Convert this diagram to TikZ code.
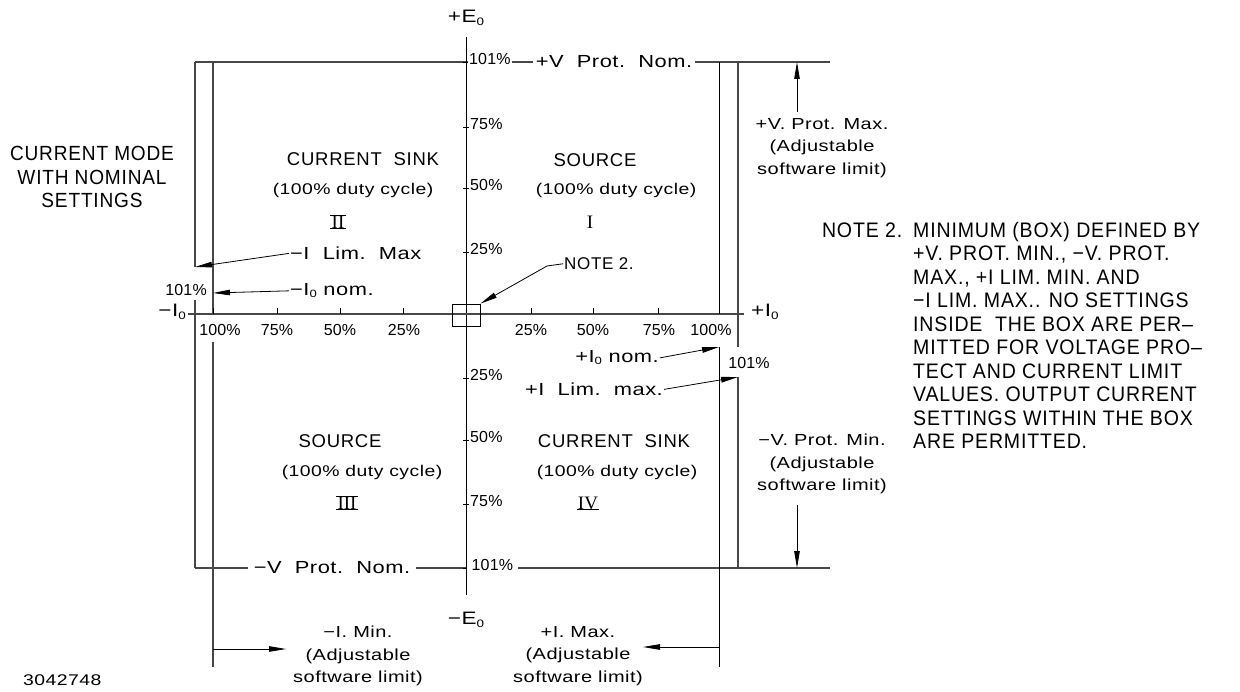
\documentclass[tikz,border=0pt]{standalone}
\usepackage{graphicx}
\usepackage{fontspec}
\setmainfont{Liberation Sans}
\newfontfamily\capsf{Liberation Sans}[LetterSpace=4]
\newfontfamily\notef{Liberation Sans}[FakeStretch=0.93,LetterSpace=4]
\newfontfamily\digf{Liberation Sans}[LetterSpace=1]
\newfontfamily\mixf{Liberation Sans}[FakeStretch=1.25,LetterSpace=3]
\newfontfamily\romf{Liberation Serif}
\usetikzlibrary{arrows.meta}
\newcommand\zsub{\raisebox{-0.25ex}{\scalebox{0.6}{0}}}
\tikzset{
  ln/.style={line width=0.9pt, draw=black},
  gln/.style={line width=1.1pt, draw=black!72},
  arr/.style={line width=0.8pt, draw=black, -{Triangle[length=17pt,width=5.5pt]}},
  big/.style={font=\mixf\fontsize{17.5}{20}\selectfont, inner sep=1pt},
  axl/.style={font=\mixf\fontsize{18}{20}\selectfont, inner sep=1pt},
  sm/.style={font=\mixf\fontsize{16}{22.5}\selectfont, align=center, inner sep=1pt},
  duty/.style={font=\mixf\fontsize{15.5}{18}\selectfont, inner sep=1pt},
  pct/.style={font=\digf\fontsize{16}{18}\selectfont, inner sep=1pt},
  capl/.style={font=\capsf\fontsize{18.5}{20}\selectfont, inner sep=1pt},
  model/.style={font=\notef\fontsize{20.5}{23.5}\selectfont, align=center, inner sep=0pt},
  notel/.style={font=\notef\fontsize{21}{23.5}\selectfont, inner sep=0pt},
  notes/.style={font=\capsf\fontsize{17}{20}\selectfont, inner sep=1pt},
  roman/.style={font=\romf\fontsize{19}{20}\selectfont, inner sep=0pt},
  bar/.style={line width=1.1pt, draw=black},
}
\begin{document}
\begin{tikzpicture}[x=1pt,y=-1pt]
\useasboundingbox (0,0) rectangle (1240,692);

% ---------- coordinates ----------
\coordinate (vtop) at (466,37);
\coordinate (vbot) at (466,595);
\coordinate (hleft) at (188,314);
\coordinate (hright) at (744,314);
\coordinate (tl) at (195,62);
\coordinate (tr) at (830,62);
\coordinate (bl) at (195,568);
\coordinate (br) at (830,568);

% ---------- frame lines ----------
\draw[gln] (tl) -- (tr);
\draw[gln] (bl) -- (br);
\draw[gln] (195,62) -- (195,267);
\draw[gln] (195,300) -- (195,568);
\draw[gln] (213,62) -- (213,314);
\draw[gln] (213,342) -- (213,667);
\draw[ln]  (719,62) -- (719,314);
\draw[ln]  (719,347) -- (719,667);
\draw[gln] (738,62) -- (738,347);
\draw[gln] (738,377) -- (738,568);

% ---------- axes ----------
\draw[ln] (vtop) -- (vbot);
\draw[gln] (hleft) -- (hright);
\foreach \y in {62,127,188,252,378,440,504,568} \draw[ln] (463,\y) -- (469,\y);
\foreach \x in {213,277,340,403,531,593,658,719} \draw[ln] (\x,308) -- (\x,314);

\node[axl] (pE) at (466,18) {+E\zsub};
\node[axl] (mE) at (466,620) {−E\zsub};
\node[axl,anchor=mid east] (mI) at (187,314) {−I\zsub};
\node[axl,anchor=mid west] (pI) at (750,314) {+I\zsub};

% vertical axis labels
\foreach \y/\t in {127/75,188/50,252/25,378/25,440/50,504/75}
  \node[pct,anchor=mid west] (vl\y) at (469,\y) {\t\%};
\node[pct,anchor=mid west,fill=white] (vtop101) at (468,62) {101\%};
\node[pct,anchor=mid west,fill=white,inner xsep=5pt] (vbot101) at (466.5,568) {101\%};

% horizontal axis labels
\foreach \x/\t in {220/100,277/75,340/50,404/25,531/25,593/50,659/75,711/100}
  \node[pct] (hl\x) at (\x,330) {\t\%};

% ---------- protection labels on frame ----------
\node[big,fill=white,inner xsep=3pt] (vpn) at (614,62) {+V\ \ Prot.\ \ Nom.};
\node[big,fill=white,inner xsep=6pt] (vmn) at (332,568) {−V\ \ Prot.\ \ Nom.};

% ---------- quadrants ----------
\node[capl] (q2a) at (363,159) {CURRENT\ \ SINK};
\node[duty] (q2b) at (353,190) {(100\% duty cycle)};
\node[roman] (q2c) at (338,222) {II};
\draw[bar] ([xshift=-1pt]q2c.north west) -- ([xshift=1pt]q2c.north east);
\draw[bar] ([xshift=-1pt]q2c.south west) -- ([xshift=1pt]q2c.south east);

\node[capl] (q1a) at (595,160) {SOURCE};
\node[duty] (q1b) at (616,190) {(100\% duty cycle)};
\node[roman] (q1c) at (590,222) {I};

\node[capl] (q3a) at (340,441) {SOURCE};
\node[duty] (q3b) at (362,472) {(100\% duty cycle)};
\node[roman] (q3c) at (347,503) {III};
\draw[bar] ([xshift=-1pt]q3c.north west) -- ([xshift=1pt]q3c.north east);
\draw[bar] ([xshift=-1pt]q3c.south west) -- ([xshift=1pt]q3c.south east);

\node[capl] (q4a) at (614,441) {CURRENT\ \ SINK};
\node[duty] (q4b) at (617,472) {(100\% duty cycle)};
\node[roman] (q4c) at (588,503) {IV};
\draw[bar] ([xshift=-1pt]q4c.south west) -- ([xshift=1pt]q4c.south east);

% ---------- left side ----------
\node[model] (mode) at (92,177) {CURRENT MODE\\WITH NOMINAL\\SETTINGS};
\node[big,anchor=mid west] (ilm) at (289,257) {−I\ \ Lim.\ \ Max};
\node[big,anchor=mid west] (inl) at (289,293) {−I\zsub\ nom.};
\node[pct,anchor=mid east] (l101) at (208,293) {101\%};
\coordinate (ilmT) at (195,267);
\coordinate (inlT) at (213,293);
\draw[arr] (ilm.west) -- (ilmT);
\draw[arr] (inl.west) -- (inlT);

% ---------- right of axis ----------
\node[big,anchor=mid east] (ipn) at (660,360) {+I\zsub\ nom.};
\node[big,anchor=mid east] (ipl) at (664,393) {+I\ \ Lim.\ \ max.};
\node[pct] (r101) at (749,363) {101\%};
\coordinate (ipnT) at (719,347);
\coordinate (iplT) at (738,377);
\draw[arr] (ipn.east) -- (ipnT);
\draw[arr] (ipl.east) -- (iplT);

% ---------- note box ----------
\node[draw,line width=0.8pt,minimum width=28pt,minimum height=22pt,inner sep=0pt] (box) at (466,315) {};
\node[notes,anchor=mid west] (n2) at (563,267) {NOTE 2.};
\coordinate (n2k) at (547,266);
\draw[arr] (n2.west) -- (n2k) -- (box.north east);

% ---------- right side limits ----------
\node[sm] (vpmax) at (822,148) {+V. Prot. Max.\\(Adjustable\\software limit)};
\coordinate (a1s) at (797,112);
\coordinate (a1e) at (797,62);
\draw[arr] (a1s) -- (a1e);
\node[sm] (vpmin) at (822,464) {−V. Prot. Min.\\(Adjustable\\software limit)};
\coordinate (a2s) at (797,505);
\coordinate (a2e) at (797,568);
\draw[arr] (a2s) -- (a2e);

% ---------- bottom limits ----------
\node[sm] (imin) at (358,656) {−I. Min.\\(Adjustable\\software limit)};
\node[sm] (imax) at (578,656) {+I. Max.\\(Adjustable\\software limit)};
\coordinate (a3s) at (213,649);
\coordinate (a3e) at (286,649);
\draw[arr] (a3s) -- (a3e);
\coordinate (a4s) at (719,647);
\coordinate (a4e) at (643,647);
\draw[arr] (a4s) -- (a4e);

% ---------- note text ----------
\node[notel,anchor=north west,align=left] (nt) at (913,222) {\llap{NOTE 2.\hspace{11pt}}MINIMUM (BOX) DEFINED BY\\+V. PROT. MIN., −V. PROT.\\MAX., +I LIM. MIN. AND\\−I LIM. MAX.. NO SETTINGS\\INSIDE\ \ THE BOX ARE PER–\\MITTED FOR VOLTAGE PRO–\\TECT AND CURRENT LIMIT\\VALUES. OUTPUT CURRENT\\SETTINGS WITHIN THE BOX\\ARE PERMITTED.};

\node[duty,anchor=mid west] (num) at (22,683) {3042748};
\end{tikzpicture}
\end{document}
